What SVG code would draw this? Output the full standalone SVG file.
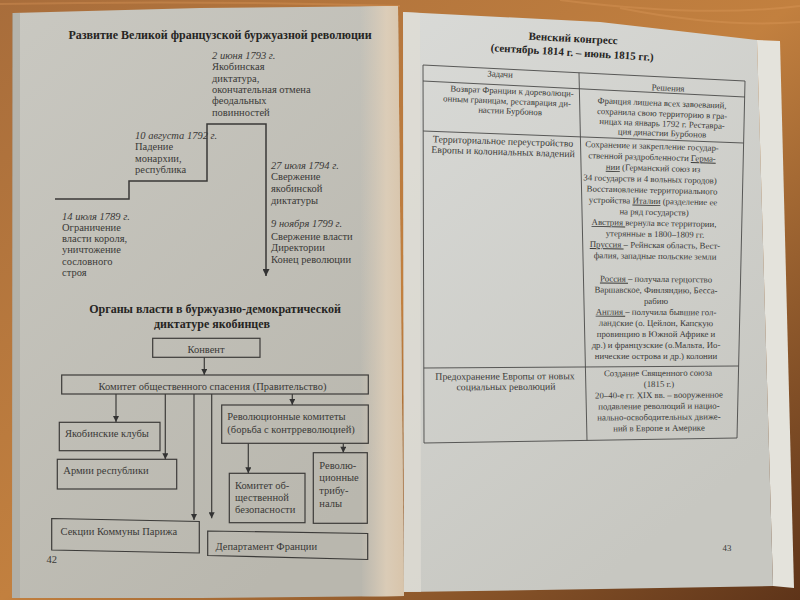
<svg xmlns="http://www.w3.org/2000/svg" width="800" height="600" viewBox="0 0 800 600">
<defs>
<linearGradient id="wood" x1="0" y1="0" x2="1" y2="1">
<stop offset="0" stop-color="#a86d3b"/>
<stop offset="0.5" stop-color="#c2803f"/>
<stop offset="1" stop-color="#5e3419"/>
</linearGradient>
<linearGradient id="lp" x1="0" y1="0" x2="0.6" y2="1">
<stop offset="0" stop-color="#c9c8c1"/>
<stop offset="1" stop-color="#b9b7ae"/>
</linearGradient>
<linearGradient id="gut" x1="0" y1="0" x2="1" y2="0">
<stop offset="0" stop-color="#dccdb8" stop-opacity="0"/>
<stop offset="0.6" stop-color="#e0cfb8" stop-opacity="0.85"/>
<stop offset="1" stop-color="#d8c4aa"/>
</linearGradient>
<linearGradient id="rp" x1="0" y1="0" x2="0.5" y2="1">
<stop offset="0" stop-color="#d9dad7"/>
<stop offset="1" stop-color="#c7c7c1"/>
</linearGradient>
<marker id="ah" viewBox="0 0 10 10" refX="10" refY="5" markerUnits="userSpaceOnUse" markerWidth="7" markerHeight="6" orient="auto">
<path d="M0,0 L10,5 L0,10 z" fill="#333"/>
</marker>
<marker id="ahBig" viewBox="0 0 10 10" refX="10" refY="5" markerUnits="userSpaceOnUse" markerWidth="9" markerHeight="7" orient="auto">
<path d="M0,0 L10,5 L0,10 z" fill="#333"/>
</marker>
<style>
.t{font-family:"Liberation Serif","Times New Roman",serif;font-size:10.5px;fill:#3a3937}
.i{font-style:italic}
.h{font-family:"Liberation Serif","Times New Roman",serif;font-weight:bold;font-size:12px;fill:#262523}
.r{font-family:"Liberation Serif","Times New Roman",serif;font-size:8.8px;fill:#3a3a38;text-anchor:middle}
.rl{font-size:9.8px}
.rh{font-family:"Liberation Serif","Times New Roman",serif;font-weight:bold;font-size:11px;fill:#262523;text-anchor:middle}
.box{fill:none;stroke:#3c3b39;stroke-width:1.2}
.ln{fill:none;stroke:#3c3b39;stroke-width:1.2}
.tl{fill:none;stroke:#3a3937;stroke-width:1.5}
.tb{fill:none;stroke:#4a4a48;stroke-width:0.9}
.u{text-decoration:underline}
</style>
</defs>

<rect x="0" y="0" width="800" height="600" fill="url(#wood)"/>
<g opacity="0.3" stroke="#e3a060" stroke-width="2" fill="none">
<path d="M560,0 Q700,18 800,6"/>
<path d="M620,8 Q720,28 800,22"/>
<path d="M0,4 Q200,0 400,6"/>
</g>

<!-- pages -->
<polygon points="13,13 200,8 398,6 404,596 200,598 12,598" fill="url(#lp)"/>
<polygon points="360,6 398,6 404,596 362,597" fill="url(#gut)"/>
<polygon points="12,13 20,13 20,598 12,598" fill="#a9a79f" opacity="0.6"/>
<polygon points="757,40 780,41 794,588 773,586" fill="#e4e3dc"/>
<polygon points="403,12 600,22 757,40 773,586 600,589 404,592" fill="url(#rp)"/>
<polygon points="403,12 420,13 421,592 404,592" fill="#e0ddd4" opacity="0.7"/>

<!-- LEFT PAGE: timeline -->
<text class="h" x="220" y="39" text-anchor="middle">Развитие Великой французской буржуазной революции</text>

<g id="connectors-timeline">
<polyline class="tl" points="55,199 129,199 129,181 207,181 207,124 266,124 266,276" marker-end="url(#ahBig)"/>
</g>

<g id="ev1789">
<text class="t i" x="62" y="219.5">14 июля 1789 г.</text>
<text class="t" x="62" y="231">Ограничение</text>
<text class="t" x="62" y="242">власти короля,</text>
<text class="t" x="62" y="253">уничтожение</text>
<text class="t" x="62" y="264.5">сословного</text>
<text class="t" x="62" y="276">строя</text>
</g>
<g id="ev1792">
<text class="t i" x="135" y="138.5">10 августа 1792 г.</text>
<text class="t" x="135" y="150">Падение</text>
<text class="t" x="135" y="161.5">монархии,</text>
<text class="t" x="135" y="173">республика</text>
</g>
<g id="ev1793">
<text class="t i" x="212" y="58.5">2 июня 1793 г.</text>
<text class="t" x="212" y="70">Якобинская</text>
<text class="t" x="212" y="81.5">диктатура,</text>
<text class="t" x="212" y="92.5">окончательная отмена</text>
<text class="t" x="212" y="104">феодальных</text>
<text class="t" x="212" y="115.5">повинностей</text>
</g>
<g id="ev1794">
<text class="t i" x="271" y="168.5">27 июля 1794 г.</text>
<text class="t" x="271" y="180.2">Свержение</text>
<text class="t" x="271" y="191.8">якобинской</text>
<text class="t" x="271" y="203.5">диктатуры</text>
</g>
<g id="ev1799">
<text class="t i" x="271" y="226.8">9 ноября 1799 г.</text>
<text class="t" x="271" y="239.5">Свержение власти</text>
<text class="t" x="271" y="251">Директории</text>
<text class="t" x="271" y="262.5">Конец революции</text>
</g>

<!-- LEFT PAGE: org chart -->
<text class="h" x="215" y="313" text-anchor="middle">Органы власти в буржуазно-демократической</text>
<text class="h" x="212" y="328" text-anchor="middle">диктатуре якобинцев</text>

<g id="connectors">
<line class="ln" x1="204.3" y1="357.3" x2="204.3" y2="375" marker-end="url(#ah)"/>
<line class="ln" x1="116" y1="394" x2="116" y2="422" marker-end="url(#ah)"/>
<line class="ln" x1="165.3" y1="394" x2="165.3" y2="459.3" marker-end="url(#ah)"/>
<line class="ln" x1="194" y1="394" x2="194" y2="520" marker-end="url(#ah)"/>
<line class="ln" x1="211.7" y1="394" x2="211.7" y2="518.3" marker-end="url(#ah)"/>
<line class="ln" x1="292.3" y1="394" x2="292.3" y2="405" marker-end="url(#ah)"/>
<line class="ln" x1="248.3" y1="443.3" x2="248.3" y2="473.3" marker-end="url(#ah)"/>
<line class="ln" x1="343.3" y1="443.3" x2="343.3" y2="452.7" marker-end="url(#ah)"/>
</g>

<g id="konvent">
<rect class="box" x="152.7" y="338.3" width="107.3" height="19"/>
<text class="t" x="206" y="352.5" text-anchor="middle">Конвент</text>
</g>
<g id="kos">
<rect class="box" x="61.7" y="375" width="306.6" height="19"/>
<text class="t" x="212.5" y="389.5" text-anchor="middle">Комитет общественного спасения (Правительство)</text>
</g>
<g id="clubs">
<rect class="box" x="59.3" y="422.3" width="100.7" height="28.4"/>
<text class="t" x="65" y="437">Якобинские клубы</text>
</g>
<g id="army">
<rect class="box" x="57.3" y="459.3" width="119.4" height="29.7"/>
<text class="t" x="63.3" y="474">Армии республики</text>
</g>
<g id="revcom">
<rect class="box" x="221.7" y="405" width="146.6" height="38.3"/>
<text class="t" x="227.3" y="419.5">Революционные комитеты</text>
<text class="t" x="227.3" y="433">(борьба с контрреволюцией)</text>
</g>
<g id="kob">
<rect class="box" x="229.3" y="473.3" width="75.7" height="49.4"/>
<text class="t" x="235" y="488.5">Комитет об-</text>
<text class="t" x="235" y="501">щественной</text>
<text class="t" x="235" y="512.5">безопасности</text>
</g>
<g id="tribunals">
<rect class="box" x="313.3" y="452.7" width="54" height="70.6"/>
<text class="t" x="319.3" y="468.5">Револю-</text>
<text class="t" x="319.3" y="481">ционные</text>
<text class="t" x="319.3" y="493.5">трибу-</text>
<text class="t" x="319.3" y="507">налы</text>
</g>
<g id="sections">
<polygon class="box" points="51.7,518.5 199.3,521.5 199.3,553 51.7,550"/>
<text class="t" x="60.5" y="535">Секции Коммуны Парижа</text>
</g>
<g id="departments">
<polygon class="box" points="207.7,531 367.7,533.5 367.7,559.5 207.7,555.5"/>
<text class="t" x="215.5" y="550">Департамент Франции</text>
</g>
<text class="t" x="46.5" y="563">42</text>

<!-- RIGHT PAGE -->
<text class="rh" x="573" y="42" transform="rotate(3 573 42)">Венский конгресс</text>
<text class="rh" x="572" y="56" transform="rotate(3.4 572 56)">(сентябрь 1814 г. – июнь 1815 гг.)</text>

<g id="table-grid">
<line class="tb" x1="423" y1="65" x2="745" y2="81"/>
<line class="tb" x1="423" y1="81" x2="745" y2="97"/>
<line class="tb" x1="423.2" y1="131" x2="743.6" y2="143"/>
<line class="tb" x1="423.8" y1="368" x2="738.6" y2="366"/>
<line class="tb" x1="424" y1="443" x2="737" y2="438"/>
<line class="tb" x1="423" y1="65" x2="424" y2="443"/>
<line class="tb" x1="579" y1="72.8" x2="587" y2="440.4"/>
<line class="tb" x1="745" y1="81" x2="737" y2="438"/>
</g>

<g id="table-header">
<text class="r" x="500" y="77" transform="rotate(2.8 500 77)">Задачи</text>
<text class="r" x="668" y="91" transform="rotate(2.8 668 91)">Решения</text>
</g>
<g id="row1">
<text class="r" x="512" y="94" transform="rotate(2.4 512 94)">Возврат Франции к дореволюци-</text>
<text class="r" x="507" y="104" transform="rotate(2.4 507 104)">онным границам, реставрация ди-</text>
<text class="r" x="510" y="114" transform="rotate(2.4 510 114)">настии Бурбонов</text>
<text class="r" x="662" y="106" transform="rotate(2.3 662 106)">Франция лишена всех завоеваний,</text>
<text class="r" x="662" y="116.5" transform="rotate(2.3 662 116.5)">сохранила свою территорию в гра-</text>
<text class="r" x="662" y="126.5" transform="rotate(2.2 662 126.5)">ницах на январь 1792 г. Реставра-</text>
<text class="r" x="662" y="136" transform="rotate(2.1 662 136)">ция династии Бурбонов</text>
</g>
<g id="row2">
<text class="r rl" x="503" y="144.5" transform="rotate(1.8 503 144.5)">Территориальное переустройство</text>
<text class="r rl" x="503" y="155" transform="rotate(1.8 503 155)">Европы и колониальных владений</text>
<text class="r" x="652" y="149" transform="rotate(1.7 652 149)">Сохранение и закрепление государ-</text>
<text class="r" x="652" y="160" transform="rotate(1.6 652 160)">ственной раздробленности <tspan class="u">Герма-</tspan></text>
<text class="r" x="653" y="171" transform="rotate(1.5 653 171)"><tspan class="u">нии</tspan> (Германский союз из</text>
<text class="r" x="650" y="182" transform="rotate(1.4 650 182)">34 государств и 4 вольных городов)</text>
<text class="r" x="652" y="193" transform="rotate(1.3 652 193)">Восстановление территориального</text>
<text class="r" x="653" y="204" transform="rotate(1.2 653 204)">устройства <tspan class="u">Италии</tspan> (разделение ее</text>
<text class="r" x="654" y="215" transform="rotate(1.1 654 215)">на ряд государств)</text>
<text class="r" x="654" y="226" transform="rotate(1 654 226)"><tspan class="u">Австрия </tspan>вернула все территории,</text>
<text class="r" x="655" y="237" transform="rotate(0.9 655 237)">утерянные в 1800–1809 гг.</text>
<text class="r" x="655" y="248" transform="rotate(0.8 655 248)"><tspan class="u">Пруссия </tspan>– Рейнская область, Вест-</text>
<text class="r" x="655" y="259" transform="rotate(0.7 655 259)">фалия, западные польские земли</text>
<text class="r" x="656" y="282" transform="rotate(0.5 656 282)"><tspan class="u">Россия </tspan>– получала герцогство</text>
<text class="r" x="656" y="293" transform="rotate(0.4 656 293)">Варшавское, Финляндию, Бесса-</text>
<text class="r" x="656" y="304" transform="rotate(0.4 656 304)">рабию</text>
<text class="r" x="656" y="315" transform="rotate(0.3 656 315)"><tspan class="u">Англия </tspan>– получила бывшие гол-</text>
<text class="r" x="656" y="326" transform="rotate(0.2 656 326)">ландские (о. Цейлон, Капскую</text>
<text class="r" x="656" y="337" transform="rotate(0.1 656 337)">провинцию в Южной Африке и</text>
<text class="r" x="656" y="348">др.) и французские (о.Мальта, Ио-</text>
<text class="r" x="656" y="359">нические острова и др.) колонии</text>
</g>
<g id="row3">
<text class="r rl" x="505" y="379.5" transform="rotate(-0.3 505 379.5)">Предохранение Европы от новых</text>
<text class="r rl" x="506" y="390" transform="rotate(-0.3 506 390)">социальных революций</text>
<text class="r" x="658" y="376" transform="rotate(-0.3 658 376)">Создание Священного союза</text>
<text class="r" x="659" y="387" transform="rotate(-0.3 659 387)">(1815 г.)</text>
<text class="r" x="659" y="398" transform="rotate(-0.4 659 398)">20–40-е гг. XIX вв. – вооруженное</text>
<text class="r" x="659" y="409" transform="rotate(-0.4 659 409)">подавление революций и нацио-</text>
<text class="r" x="659" y="420" transform="rotate(-0.5 659 420)">нально-освободительных движе-</text>
<text class="r" x="659" y="431" transform="rotate(-0.5 659 431)">ний в Европе и Америке</text>
</g>
<text class="r" x="727" y="551">43</text>
</svg>
